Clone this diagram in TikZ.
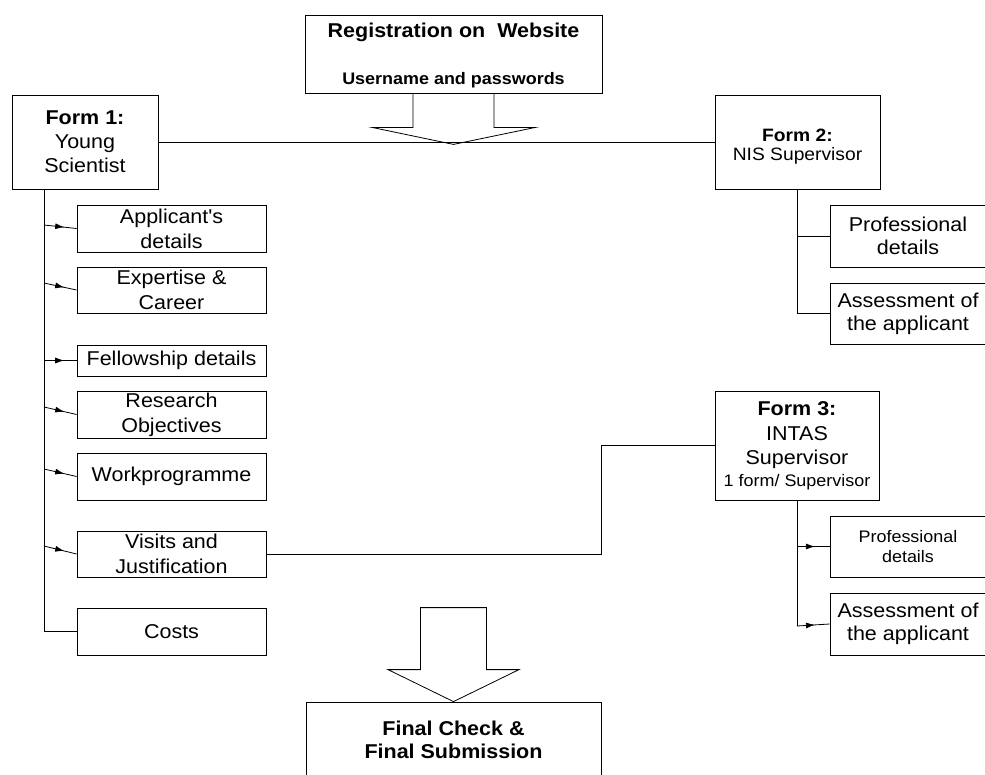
\documentclass[tikz,border=0pt]{standalone}
\usepackage{fontspec}
\setmainfont{Liberation Sans}[FakeStretch=1.075]
\usetikzlibrary{arrows.meta,decorations.markings,calc}
\newcommand{\normsz}{\fontsize{20}{25}\selectfont}
\newcommand{\smallsz}{\fontsize{16.7}{20}\selectfont}
\begin{document}
\begin{tikzpicture}[x=1pt,y=-1pt, line width=0.8pt,
  box/.style={draw, rectangle, inner sep=0pt, align=center, font=\normsz},
  lbox/.style={box, minimum width=189pt, minimum height=47pt},
  rbox/.style={box, minimum width=156pt, minimum height=62pt, font=\fontsize{20}{23}\selectfont},
  midarrow/.style={postaction={decorate}, decoration={markings, mark=at position #1 with {\arrow{Latex[length=9pt,width=6pt]}}}},
  midarrow/.default=0.62]
\useasboundingbox (0,0) rectangle (985,774);
\fill[white] (0,0) rectangle (985,774);
\clip (0,0) rectangle (985,774);

% top registration box
\node[box, minimum width=297pt, minimum height=78pt] (reg) at (453.5,54) {};
\node[font=\normsz\bfseries, anchor=base, inner sep=0pt] (regt1) at (453.5,37.3) {Registration on\ \ Website};
\node[font=\smallsz\bfseries, anchor=base, inner sep=0pt] (regt2) at (453.5,84) {Username and passwords};

% forms
\node[box, minimum width=146pt, minimum height=94pt, font=\fontsize{20}{24}\selectfont] (f1) at (85,142) {\textbf{Form 1:}\\Young\\Scientist};
\node[box, minimum width=165pt, minimum height=94pt,
  label={[align=center, inner sep=0pt, font=\fontsize{17.9}{19}\selectfont, yshift=-5pt]center:{\textbf{Form 2:}\\NIS Supervisor}}] (f2) at (797.5,142) {};
\node[box, minimum width=164pt, minimum height=109pt, font=\fontsize{20}{24.5}\selectfont] (f3) at (797,445.5) {\textbf{Form 3:}\\INTAS\\Supervisor\\[-3pt]{\smallsz 1 form/ Supervisor}};

% left boxes
\node[lbox] (app) at (171.5,228.5) {Applicant\textquotesingle s\\details};
\node[lbox, minimum height=46pt] (exp) at (171.5,290) {Expertise \&\\Career};
\node[lbox, minimum height=31pt] (fel) at (171.5,360.5) {Fellowship details};
\node[lbox] (res) at (171.5,414.5) {Research\\Objectives};
\node[lbox] (work) at (171.5,476.5) {Workprogramme};
\node[lbox, minimum height=46pt] (vis) at (171.5,554) {Visits and\\Justification};
\node[lbox] (costs) at (171.5,631.5) {Costs};

% right boxes
\node[rbox] (prof2) at (908,236) {Professional\\details};
\node[rbox, minimum height=61pt] (ass2) at (908,313.5) {Assessment of\\the applicant};
\node[rbox, minimum height=61pt, font=\smallsz] (prof3) at (908,546.5) {Professional\\details};
\node[rbox] (ass3) at (908,624) {Assessment of\\the applicant};

% final box
\node[box, minimum width=295pt, minimum height=76pt, font=\fontsize{20}{23}\selectfont\bfseries] (fin) at (453.5,740) {Final Check \&\\Final Submission};

% connector form1 - form2
\draw (f1) -- (f2);

% top block arrow
\draw ($(reg.south)+(-40.5,0)$) -- ++(0,34) -- ++(-41,0) -- ($(reg.south)+(0,51)$)
  -- ($(reg.south)+(82,34)$) -- ($(reg.south)+(40.5,34)$) -- ($(reg.south)+(40.5,0)$);

% bottom block arrow
\draw ($(fin.north)+(-33,-94)$) -- ($(fin.north)+(33,-94)$) -- ($(fin.north)+(33,-32)$)
  -- ($(fin.north)+(65.5,-32)$) -- (fin.north) -- ($(fin.north)+(-65.5,-32)$)
  -- ($(fin.north)+(-33,-32)$) -- cycle;

% form 1 trunk and branches
\coordinate (t1) at (44,189);
\draw (t1) |- (costs.west);
\coordinate (b1) at (44,225);
\coordinate (b2) at (44,283);
\coordinate (b3) at (44,360.5);
\coordinate (b4) at (44,407);
\coordinate (b5) at (44,469);
\coordinate (b6) at (44,546);
\draw[midarrow] (b1) -- (app.west);
\draw[midarrow] (b2) -- (exp.west);
\draw[midarrow] (b3) -- (fel.west);
\draw[midarrow] (b4) -- (res.west);
\draw[midarrow] (b5) -- (work.west);
\draw[midarrow] (b6) -- (vis.west);

% form 2 trunk
\draw (f2.south) |- (ass2.west);
\draw (f2.south |- prof2.west) -- (prof2.west);

% form 3 trunk
\coordinate (t3) at (797,626);
\draw (f3.south) -- (t3);
\draw[midarrow=0.55] (t3) -- (ass3.west);
\draw[midarrow=0.55] (f3.south |- prof3.west) -- (prof3.west);

% visits to form 3
\draw (vis.east) -- ++(335,0) |- (f3.west);
\end{tikzpicture}
\end{document}
